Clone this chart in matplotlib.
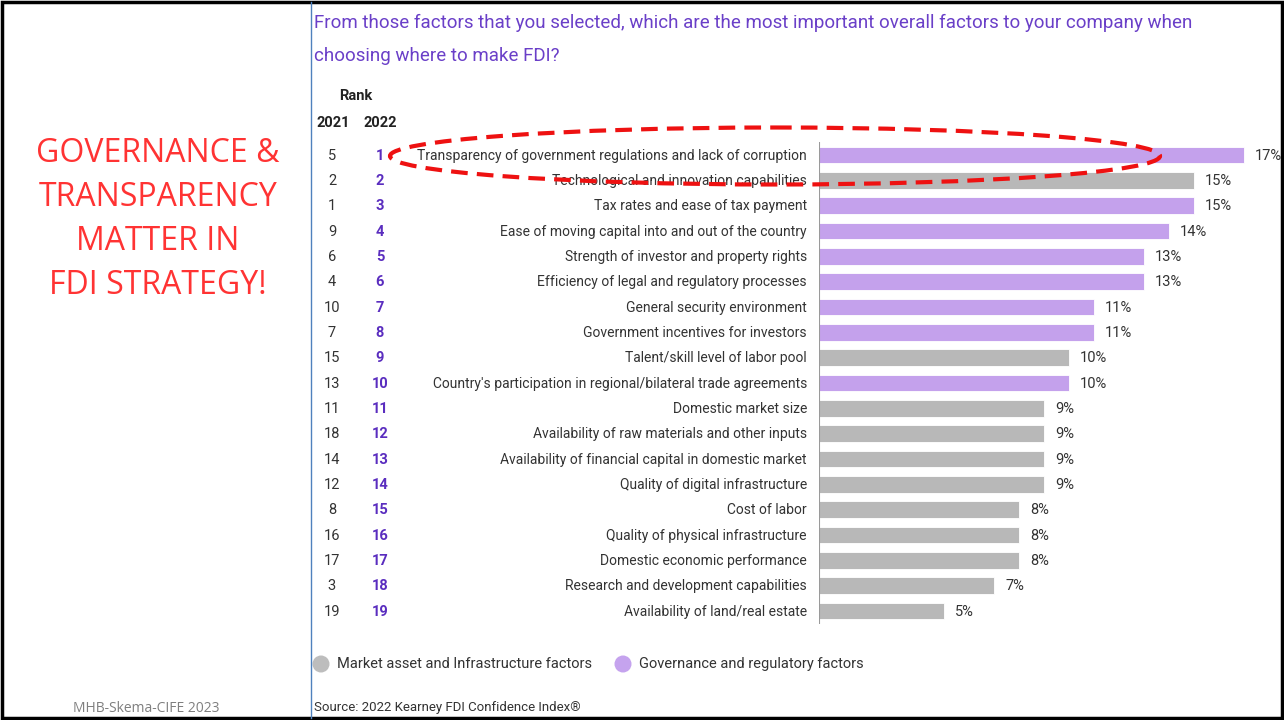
import matplotlib
matplotlib.use("Agg")
import matplotlib.pyplot as plt
from matplotlib.patches import Ellipse, Circle, Rectangle
from matplotlib.transforms import blended_transform_factory

# data
factors = [
    "Transparency of government regulations and lack of corruption",
    "Technological and innovation capabilities",
    "Tax rates and ease of tax payment",
    "Ease of moving capital into and out of the country",
    "Strength of investor and property rights",
    "Efficiency of legal and regulatory processes",
    "General security environment",
    "Government incentives for investors",
    "Talent/skill level of labor pool",
    "Country's participation in regional/bilateral trade agreements",
    "Domestic market size",
    "Availability of raw materials and other inputs",
    "Availability of financial capital in domestic market",
    "Quality of digital infrastructure",
    "Cost of labor",
    "Quality of physical infrastructure",
    "Domestic economic performance",
    "Research and development capabilities",
    "Availability of land/real estate",
]
rank_2021 = [5, 2, 1, 9, 6, 4, 10, 7, 15, 13, 11, 18, 14, 12, 8, 16, 17, 3, 19]
rank_2022 = list(range(1, 20))
shares = [17, 15, 15, 14, 13, 13, 11, 11, 10, 10, 9, 9, 9, 9, 8, 8, 8, 7, 5]
groups = ["gov", "mkt", "gov", "gov", "gov", "gov", "gov", "gov", "mkt", "gov",
          "mkt", "mkt", "mkt", "mkt", "mkt", "mkt", "mkt", "mkt", "mkt"]
legend_labels = {"mkt": "Market asset and Infrastructure factors",
                 "gov": "Governance and regulatory factors"}
message = ["GOVERNANCE &", "TRANSPARENCY", "MATTER IN", "FDI STRATEGY!"]

PURPLE_BAR = "#c4a1ec"
GRAY_BAR = "#b8b8b8"
TITLE_PURPLE = "#6a3fc8"
RANK_PURPLE = "#5a2dbf"
TEXT = "#333333"
RED = "#ff3333"

plt.rcParams["font.family"] = ["Roboto", "DejaVu Sans"]

W, H = 1284, 720
fig = plt.figure(figsize=(W / 100, H / 100), dpi=100)

# pixel-space overlay for free-standing slide elements
ov = fig.add_axes([0, 0, 1, 1], zorder=5)
ov.set_xlim(0, W)
ov.set_ylim(H, 0)
ov.axis("off")

# slide frame and separator line
ov.add_patch(Rectangle((2, 2), W - 4, H - 4, fill=False, ec="black", lw=2.5))
ov.plot([311, 311], [2, H - 2], color="#4f81bd", lw=1)

# title
ov.text(314, 23, "From those factors that you selected, which are the most important overall factors to your company when",
        color=TITLE_PURPLE, fontsize=13.5, va="center", ha="left")
ov.text(314, 56, "choosing where to make FDI?", color=TITLE_PURPLE, fontsize=13.5, va="center", ha="left")

ov.text(356, 96, "Rank", fontsize=10.5, fontweight="bold", ha="center", va="center", color="#222222")
ov.text(333, 123, "2021", fontsize=10.5, fontweight="bold", ha="center", va="center", color="#222222")
ov.text(380, 123, "2022", fontsize=10.5, fontweight="bold", ha="center", va="center", color="#222222")

# bar axes
row_step = (611 - 155) / 18
top = 155 - row_step / 2
bottom = 611 + row_step / 2
ax = fig.add_axes([819 / W, 1 - bottom / H, (1269 - 819) / W, (bottom - top) / H])
ypos = list(range(len(factors)))
colors = [PURPLE_BAR if g == "gov" else GRAY_BAR for g in groups]
ax.barh(ypos, shares, height=0.66, color=colors, edgecolor="white", linewidth=0.6)
ax.set_xlim(0, 18)
ax.set_ylim(len(factors) - 0.5, -0.5)
for s in ax.spines.values():
    s.set_visible(False)
ax.axvline(0, color="#9a9a9a", lw=1.5)
ax.set_xticks([])
ax.set_yticks([])
ax.patch.set_alpha(0)

for y, v in zip(ypos, shares):
    ax.text(v + 0.45, y + 0.03, f"{v}%", va="center", ha="left", fontsize=10.5, color=TEXT, clip_on=False)

tr = blended_transform_factory(fig.transFigure, ax.transData)
for y, name, r21, r22 in zip(ypos, factors, rank_2021, rank_2022):
    ax.text(807 / W, y + 0.03, name, transform=tr, ha="right", va="center", fontsize=10, color=TEXT)
    ax.text(332 / W, y + 0.03, str(r21), transform=tr, ha="center", va="center", fontsize=10.5, color=TEXT)
    ax.text(380 / W, y + 0.03, str(r22), transform=tr, ha="center", va="center", fontsize=10.5,
            color=RANK_PURPLE, fontweight="bold")

# highlight ellipse around the top factor
ov.add_patch(Ellipse((775, 156), 770, 57, fill=False, ec="#ee1111", lw=3, ls=(0, (4, 2.2))))

# legend
ov.add_patch(Circle((321, 664), 8.5, color="#bdbdbd", ec="none"))
ov.add_patch(Circle((623, 664), 8.5, color="#c5a3ee", ec="none"))
ov.text(337, 664, legend_labels["mkt"], fontsize=10.5, va="center", ha="left", color=TEXT)
ov.text(639, 664, legend_labels["gov"], fontsize=10.5, va="center", ha="left", color=TEXT)

ov.text(314, 708, "Source: 2022 Kearney FDI Confidence Index®", fontsize=9.5, va="center", ha="left", color=TEXT)

# left-side message
for yy, line in zip([153, 197, 241, 285], message):
    ov.text(158, yy, line, fontsize=23, color=RED, ha="center", va="center",
            family=["Open Sans", "DejaVu Sans"])
ov.text(146, 708, "MHB-Skema-CIFE 2023", fontsize=10, color="#7f7f7f", ha="center", va="center",
        family=["Open Sans", "DejaVu Sans"])

fig.savefig("out.png", dpi=100, facecolor="white")
